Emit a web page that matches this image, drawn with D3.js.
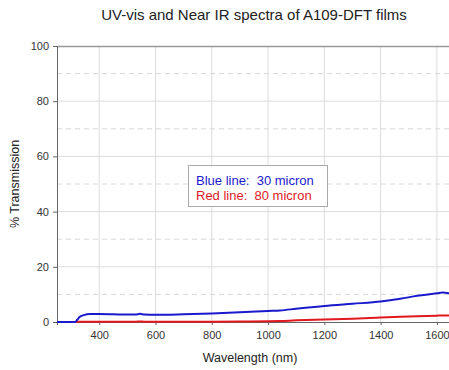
<html>
<head>
<meta charset="utf-8">
<style>
  body { margin: 0; background: #fff; }
  text { font-family: "Liberation Sans", Arial, sans-serif; fill: #222; }
  .grid line { stroke: #dcdcdc; stroke-width: 1; }
  .minor line { stroke: #d8d8d8; stroke-width: 1; stroke-dasharray: 5,4; }
  .axis path, .axis line { stroke: #666; }
  .axis text { font-size: 11px; fill: #333; }
</style>
</head>
<body>
<script src="https://cdn.jsdelivr.net/npm/d3@7"></script>
<script>
// Wavelength samples (nm) and % transmission for each film
var wavelength = [250, 300, 314, 322, 330, 345, 367, 400, 450, 500, 530, 545, 560, 600, 700, 800, 900, 1000, 1043, 1100, 1200, 1300, 1400, 1470, 1530, 1600, 1620, 1650];
var blue30 = [0, 0, 0, 0.8, 1.8, 2.5, 2.9, 2.9, 2.8, 2.7, 2.7, 2.95, 2.7, 2.6, 2.8, 3.1, 3.5, 4.0, 4.2, 4.8, 5.8, 6.6, 7.4, 8.4, 9.5, 10.4, 10.7, 10.3];
var red80 = [0, 0, 0, 0.1, 0.1, 0.1, 0.1, 0.1, 0.1, 0.1, 0.1, 0.2, 0.1, 0.1, 0.1, 0.1, 0.15, 0.25, 0.35, 0.6, 0.9, 1.2, 1.6, 1.9, 2.1, 2.3, 2.35, 2.4];
var xTicks = [400, 600, 800, 1000, 1200, 1400, 1600];
var yTicks = [0, 20, 40, 60, 80, 100];
var yMinor = [10, 30, 50, 70, 90];

var width = 449, height = 370;
var svg = d3.select("body").append("svg").attr("width", width).attr("height", height);

var x = d3.scaleLinear().domain([250, 1650]).range([57, 451]);
var y = d3.scaleLinear().domain([0, 100]).range([322, 46]);

svg.append("g").attr("class", "minor")
  .selectAll("line").data(yMinor).enter().append("line")
  .attr("x1", 57).attr("x2", width).attr("y1", y).attr("y2", y);

svg.append("g").attr("class", "grid")
  .selectAll("line").data(yTicks.slice(1, -1)).enter().append("line")
  .attr("x1", 57).attr("x2", width).attr("y1", y).attr("y2", y);

svg.append("g").attr("class", "grid")
  .selectAll("line").data(xTicks).enter().append("line")
  .attr("x1", x).attr("x2", x).attr("y1", 46).attr("y2", 322);

// top frame
svg.append("line").attr("x1", 57).attr("x2", width).attr("y1", 46.5).attr("y2", 46.5)
  .attr("stroke", "#999").attr("stroke-width", 1.5);

svg.append("g").attr("class", "axis")
  .attr("transform", "translate(57,0)")
  .call(d3.axisLeft(y).tickValues(yTicks).tickSize(4).tickPadding(4));

svg.append("g").attr("class", "axis")
  .attr("transform", "translate(0,322)")
  .call(d3.axisBottom(x).tickValues(xTicks).tickSize(3).tickPadding(6).tickFormat(d3.format("d")));

var line = function (vals) {
  return d3.line().x(function (d, i) { return x(wavelength[i]); })
    .y(function (d) { return y(d); }).curve(d3.curveMonotoneX)(vals);
};

svg.append("path").attr("d", line(red80)).attr("fill", "none")
  .attr("stroke", "#e0191e").attr("stroke-width", 2);
svg.append("path").attr("d", line(blue30)).attr("fill", "none")
  .attr("stroke", "#1a1acc").attr("stroke-width", 2);

// legend
svg.append("rect").attr("x", 188.5).attr("y", 165.5).attr("width", 139).attr("height", 41)
  .attr("fill", "#fff").attr("stroke", "#aaa");
svg.append("text").attr("x", 196).attr("y", 185).style("font-size", "13px").style("fill", "#1a1acc")
  .attr("xml:space", "preserve").text("Blue line:  30 micron");
svg.append("text").attr("x", 196).attr("y", 200).style("font-size", "13px").style("fill", "#e0191e")
  .attr("xml:space", "preserve").text("Red line:  80 micron");

svg.append("text").attr("x", 254).attr("y", 20).attr("text-anchor", "middle")
  .style("font-size", "15px").text("UV-vis and Near IR spectra of A109-DFT films");
svg.append("text").attr("x", 250).attr("y", 362).attr("text-anchor", "middle")
  .style("font-size", "12.5px").text("Wavelength (nm)");
svg.append("text").attr("transform", "translate(19,184) rotate(-90)").attr("text-anchor", "middle")
  .style("font-size", "12.5px").text("% Transmission");
</script>
</body>
</html>
